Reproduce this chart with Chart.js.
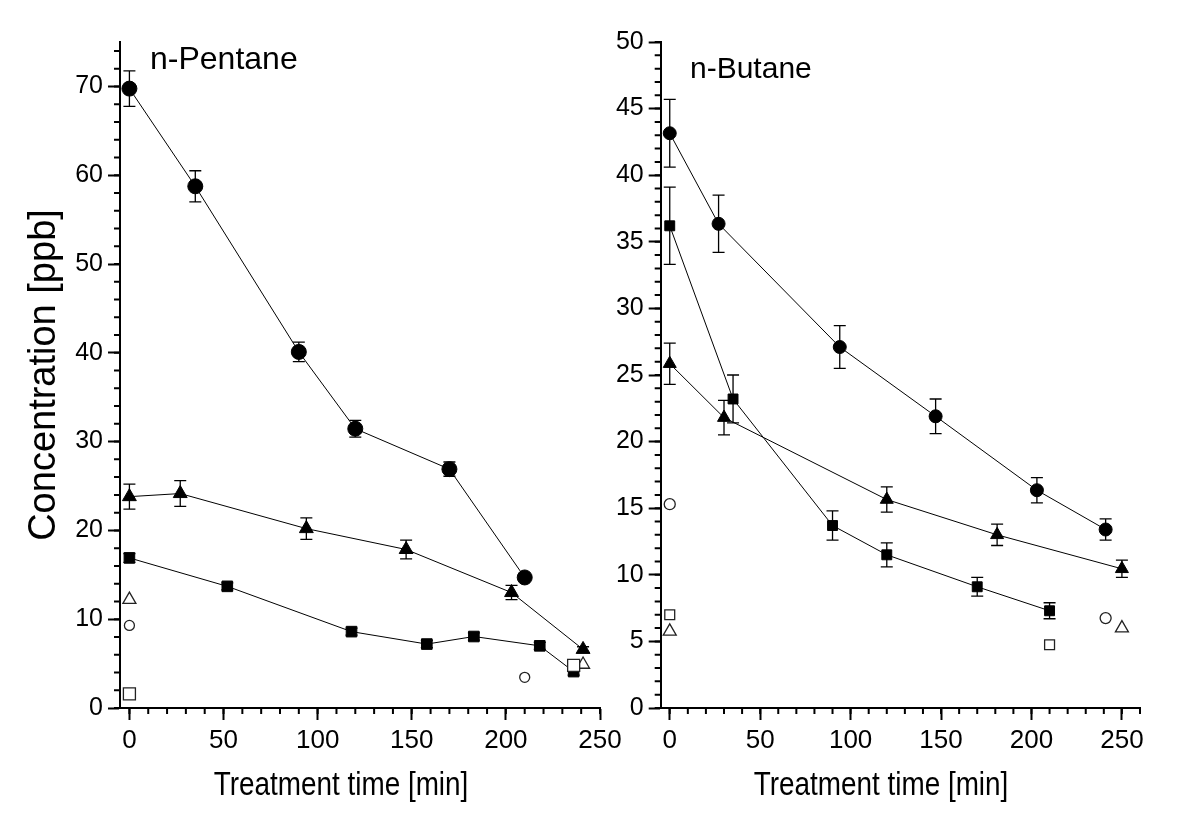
<!DOCTYPE html>
<html>
<head>
<meta charset="utf-8">
<script src="https://cdn.jsdelivr.net/npm/chart.js@4"></script>
<style>
  html, body { margin: 0; padding: 0; background: #fff; }
  body { width: 1200px; height: 833px; position: relative; overflow: hidden; }
  .wrap { position: absolute; top: 0; }
  .lbl { position: absolute; font-family: "Liberation Sans", Arial, sans-serif; color: #000; white-space: nowrap; line-height: 1; }
  .xt { position: absolute; font-family: "Liberation Sans", Arial, sans-serif; font-size: 34px; color: #000; white-space: nowrap; line-height: 1; transform: translateX(-50%) scaleX(0.82); transform-origin: center; }
</style>
</head>
<body>
<div class="wrap" style="left:0px;width:640px;height:833px;"><canvas id="left" width="640" height="833"></canvas></div>
<div class="wrap" style="left:600px;width:600px;height:833px;"><canvas id="right" width="600" height="833"></canvas></div>
<div class="lbl" style="left:150px;top:42px;font-size:32px;">n-Pentane</div>
<div class="lbl" style="left:690px;top:53px;font-size:30px;">n-Butane</div>
<div class="xt" id="xtL" style="left:341px;top:766px;"></div>
<div class="xt" id="xtR" style="left:881px;top:766px;"></div>
<script>
// ---------- n-Pentane (left panel) ----------
const pentaneCircleX = [0, 35, 90, 120, 170, 210];
const pentaneCircleY = [69.75, 58.75, 40.1, 31.45, 26.9, 14.7];
const pentaneCircleErr = [2.0, 1.75, 1.1, 0.95, 0.8, 0.3];

const pentaneTriangleX = [0, 27, 94, 147, 203, 241];
const pentaneTriangleY = [23.8, 24.15, 20.2, 17.85, 13.0, 6.6];
const pentaneTriangleErr = [1.4, 1.45, 1.2, 1.05, 0.8, 0.3];

const pentaneSquareX = [0, 52, 118, 158, 183, 218, 236];
const pentaneSquareY = [16.9, 13.7, 8.6, 7.2, 8.05, 7.0, 4.1];
const pentaneSquareErr = [0.5, 0.4, 0.4, 0.4, 0.4, 0.4, 0.4];

const pentaneOpenCircleX = [0, 210];
const pentaneOpenCircleY = [9.3, 3.45];
const pentaneOpenSquareX = [0, 236];
const pentaneOpenSquareY = [1.6, 4.8];
const pentaneOpenTriangleX = [0, 241];
const pentaneOpenTriangleY = [12.2, 4.9];

// ---------- n-Butane (right panel) ----------
const butaneCircleX = [0, 27, 94, 147, 203, 241];
const butaneCircleY = [43.15, 36.35, 27.1, 21.9, 16.35, 13.4];
const butaneCircleErr = [2.55, 2.15, 1.6, 1.3, 0.95, 0.8];

const butaneSquareX = [0, 35, 90, 120, 170, 210];
const butaneSquareY = [36.2, 23.2, 13.7, 11.5, 9.1, 7.3];
const butaneSquareErr = [2.9, 1.8, 1.1, 0.9, 0.7, 0.6];

const butaneTriangleX = [0, 30, 120, 181, 250];
const butaneTriangleY = [25.85, 21.8, 15.65, 13.0, 10.45];
const butaneTriangleErr = [1.55, 1.3, 0.95, 0.8, 0.65];

const butaneOpenCircleX = [0, 241];
const butaneOpenCircleY = [15.3, 6.75];
const butaneOpenSquareX = [0, 210];
const butaneOpenSquareY = [7.0, 4.75];
const butaneOpenTriangleX = [0, 250];
const butaneOpenTriangleY = [5.75, 6.0];

// ---------- axis labels ----------
const xTitle = 'Treatment time [min]';
const yTitle = 'Concentration [ppb]';

document.getElementById('xtL').textContent = xTitle;
document.getElementById('xtR').textContent = xTitle;

const FONT = '"Liberation Sans", Arial, sans-serif';

function pts(xs, ys) { return xs.map((x, i) => ({ x: x, y: ys[i] })); }

function filled(xs, ys, errs, style, radius) {
  return {
    data: pts(xs, ys), errors: errs, showLine: true,
    borderColor: '#000', borderWidth: 1,
    pointStyle: style, pointRadius: radius, pointHoverRadius: radius,
    pointBackgroundColor: '#000', pointBorderColor: '#000', pointBorderWidth: 1
  };
}
function open(xs, ys, style, radius) {
  return {
    data: pts(xs, ys), showLine: false,
    pointStyle: style, pointRadius: radius, pointHoverRadius: radius,
    pointBackgroundColor: '#fff', pointBorderColor: '#222', pointBorderWidth: 1.3
  };
}

const errorBars = {
  id: 'errorBars',
  beforeDatasetsDraw(chart) {
    const ctx = chart.ctx, xs = chart.scales.x, ys = chart.scales.y;
    ctx.save();
    ctx.strokeStyle = '#000';
    ctx.lineWidth = 1.3;
    chart.data.datasets.forEach(ds => {
      if (!ds.errors) return;
      ds.data.forEach((p, i) => {
        const e = ds.errors[i];
        if (!e) return;
        const px = xs.getPixelForValue(p.x);
        const t = ys.getPixelForValue(p.y + e);
        const b = ys.getPixelForValue(p.y - e);
        ctx.beginPath();
        ctx.moveTo(px, t); ctx.lineTo(px, b);
        ctx.moveTo(px - 6, t); ctx.lineTo(px + 6, t);
        ctx.moveTo(px - 6, b); ctx.lineTo(px + 6, b);
        ctx.stroke();
      });
    });
    ctx.restore();
  }
};

const minorTicks = {
  id: 'minorTicks',
  afterDraw(chart) {
    const o = chart.options.plugins.minorTicks;
    const ctx = chart.ctx, xs = chart.scales.x, ys = chart.scales.y;
    ctx.save();
    ctx.strokeStyle = '#000';
    ctx.lineWidth = 2;
    ctx.beginPath();
    const x0 = Math.ceil(xs.min / o.x);
    const x1 = Math.floor(xs.max / o.x + 1e-9);
    for (let k = x0; k <= x1; k++) {
      const px = xs.getPixelForValue(k * o.x);
      ctx.moveTo(px, xs.top); ctx.lineTo(px, xs.top + o.len);
    }
    const y0 = Math.ceil(ys.min / o.y);
    const y1 = Math.floor(ys.max / o.y + 1e-9);
    for (let k = y0; k <= y1; k++) {
      const py = ys.getPixelForValue(k * o.y);
      ctx.moveTo(ys.right, py); ctx.lineTo(ys.right - o.len, py);
    }
    ctx.stroke();
    ctx.restore();
  }
};

function makeChart(id, datasets, cfg) {
  return new Chart(document.getElementById(id), {
    type: 'scatter',
    data: { datasets: datasets },
    plugins: [errorBars, minorTicks],
    options: {
      responsive: false, animation: false,
      layout: { padding: { top: 42, right: cfg.padRight, left: 0, bottom: 0 } },
      plugins: {
        legend: { display: false }, tooltip: { enabled: false },
        minorTicks: { x: 10, y: cfg.yMinor, len: 6 }
      },
      scales: {
        x: {
          type: 'linear', min: -5, max: cfg.xMax,
          ticks: { stepSize: 50, includeBounds: false, color: '#000', font: { family: FONT, size: 26 }, padding: 5, maxRotation: 0 },
          grid: { drawOnChartArea: false, drawTicks: true, tickLength: 12, tickWidth: 2, tickColor: '#000' },
          border: { display: true, color: '#000', width: 2 },
          afterFit(s) { s.height = 125; s.paddingLeft = 0; s.paddingRight = 0; }
        },
        y: {
          type: 'linear', min: 0, max: cfg.yMax,
          ticks: { stepSize: cfg.yStep, includeBounds: false, color: '#000', font: { family: FONT, size: 25 }, padding: 5 },
          grid: { drawOnChartArea: false, drawTicks: true, tickLength: 12, tickWidth: 2, tickColor: '#000' },
          border: { display: true, color: '#000', width: 2 },
          title: { display: cfg.yTitle, text: yTitle, color: '#000', font: { family: FONT, size: 38, lineHeight: 1.2 }, padding: { top: 22, bottom: 0 } },
          afterFit(s) { s.width = cfg.yWidth; s.paddingTop = 0; s.paddingBottom = 0; }
        }
      }
    }
  });
}

makeChart('left', [
  open(pentaneOpenCircleX, pentaneOpenCircleY, 'circle', 5),
  open(pentaneOpenSquareX, pentaneOpenSquareY, 'rect', 8.5),
  open(pentaneOpenTriangleX, pentaneOpenTriangleY, 'triangle', 7.5),
  filled(pentaneSquareX, pentaneSquareY, pentaneSquareErr, 'rect', 7.5),
  filled(pentaneTriangleX, pentaneTriangleY, pentaneTriangleErr, 'triangle', 8),
  filled(pentaneCircleX, pentaneCircleY, pentaneCircleErr, 'circle', 7.5)
], { xMax: 250, yMax: 75, yStep: 10, yMinor: 2, yWidth: 120, padRight: 40, yTitle: true });

makeChart('right', [
  open(butaneOpenCircleX, butaneOpenCircleY, 'circle', 5.5),
  open(butaneOpenSquareX, butaneOpenSquareY, 'rect', 7),
  open(butaneOpenTriangleX, butaneOpenTriangleY, 'triangle', 7.5),
  filled(butaneSquareX, butaneSquareY, butaneSquareErr, 'rect', 7),
  filled(butaneTriangleX, butaneTriangleY, butaneTriangleErr, 'triangle', 7.5),
  filled(butaneCircleX, butaneCircleY, butaneCircleErr, 'circle', 6.5)
], { xMax: 260, yMax: 50, yStep: 5, yMinor: 1, yWidth: 60.7, padRight: 60, yTitle: false });
</script>
</body>
</html>
